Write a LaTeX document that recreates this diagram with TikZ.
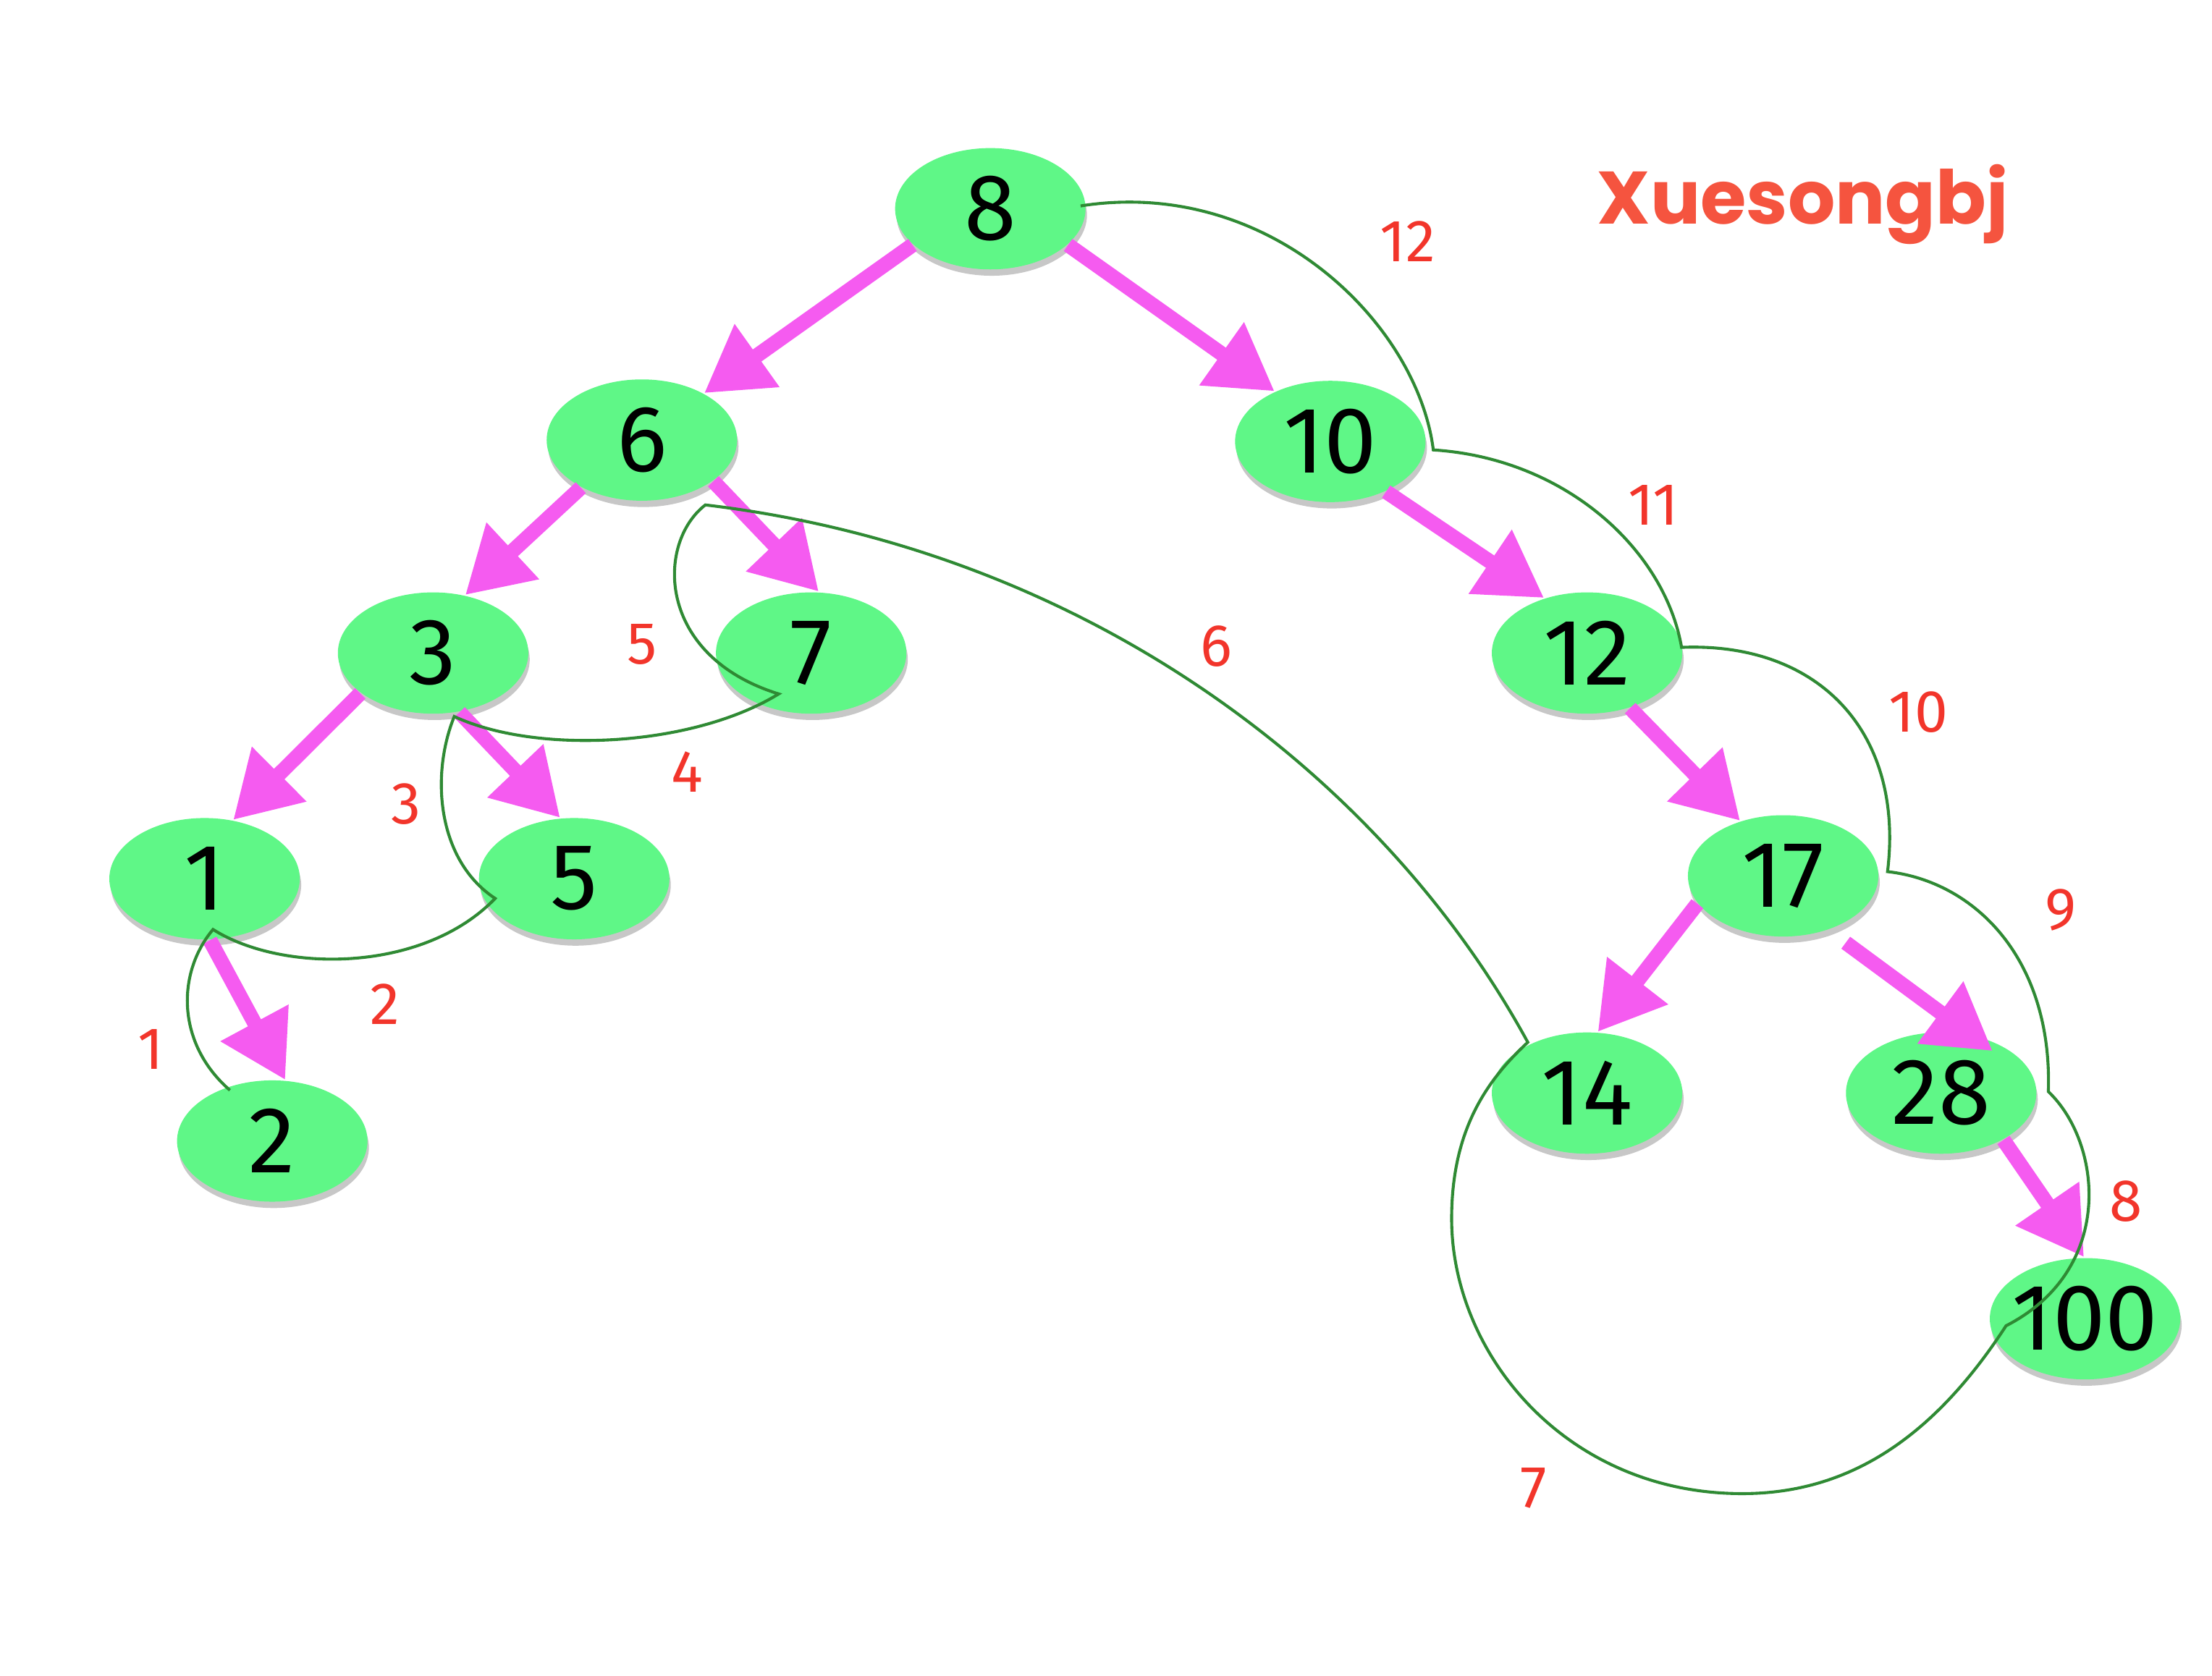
\documentclass[tikz,border=0pt]{standalone}
\usepackage{fontspec}
\setmainfont{Fira Sans}
\newfontfamily\titlefont{Poppins}
\usetikzlibrary{shadows,arrows.meta,shapes.geometric}
\definecolor{nodegreen}{HTML}{5FF787}
\definecolor{arrowpink}{HTML}{F55BF0}
\definecolor{threadgreen}{HTML}{2F8A34}
\definecolor{labelred}{HTML}{F2352B}
\definecolor{titlered}{HTML}{F5543F}
\newcommand{\nodetxt}[1]{\makebox[0pt]{#1}}
\begin{document}
\begin{tikzpicture}[x=0.1mm,y=-0.1mm,
  tnode/.style={ellipse, fill=nodegreen, minimum width=13.5mm, minimum height=8.6mm,
    inner sep=0pt, font=\fontsize{19}{19}\selectfont,
    drop shadow={shadow xshift=0.1mm, shadow yshift=-0.45mm, opacity=0.22, fill=black}},
  child/.style={draw=arrowpink, line width=1.05mm, -{Triangle[length=4.6mm,width=5.2mm]}},
  thread/.style={draw=threadgreen, line width=0.6pt},
  lab/.style={text=labelred, font=\fontsize{12}{12}\selectfont}
]
\useasboundingbox (0,0) rectangle (1568,1188);

% nodes
\node[tnode] (n8)   at (702,148)  {\nodetxt{8}};
\node[tnode] (n6)   at (455,312)  {\nodetxt{6}};
\node[tnode] (n10)  at (943,313)  {\nodetxt{10}};
\node[tnode] (n3)   at (307,463)  {\nodetxt{3}};
\node[tnode] (n7)   at (575,463)  {\nodetxt{7}};
\node[tnode] (n12)  at (1125,463) {\nodetxt{12}};
\node[tnode] (n1)   at (145,623)  {\nodetxt{1}};
\node[tnode] (n5)   at (407,623)  {\nodetxt{5}};
\node[tnode] (n17)  at (1264,621) {\nodetxt{17}};
\node[tnode] (n2)   at (193,809)  {\nodetxt{2}};
\node[tnode] (n14)  at (1125,775) {\nodetxt{14}};
\node[tnode] (n28)  at (1376,775) {\nodetxt{28}};
\node[tnode] (n100) at (1478,935) {\nodetxt{100}};

% child arrows
\draw[child] (n8.205) -- (n6.37);
\draw[child] (n8.335) -- (n10.138);
\draw[child] (n6.218) -- (n3.61);
\draw[child] (n6.330) -- (n7.83);
\draw[child] (n3.209) -- (n1.64);
\draw[child] (n3.294) -- (n5.103);
\draw[child] (n1.275) -- (n2.78);
\draw[child] (n10.318) -- (n12.128);
\draw[child] (n12.308) -- (n17.128);
\draw[child] (n17.198) -- (n14.80);
\draw[child, shorten <=1.5mm, shorten >=-2mm] (n17.310) -- (n28.64);
\draw[child] (n28.323) -- (n100.91);

% thread junctions
\coordinate (j0)  at (766,146);
\coordinate (j1)  at (1016,319);
\coordinate (j2)  at (1192,459);
\coordinate (j3)  at (1338,618);
\coordinate (j4)  at (1452,774);
\coordinate (j5)  at (1422,940);
\coordinate (j6)  at (1083,739);
\coordinate (j7)  at (500,358);
\coordinate (j8)  at (552,492);
\coordinate (j9)  at (322,508);
\coordinate (j10) at (351,637);
\coordinate (j11) at (151,659);
\coordinate (j12) at (163,773);

\draw[thread] (j0) .. controls (900,125) and (1005,230) .. (j1)
  .. controls (1110,325) and (1180,390) .. (j2)
  .. controls (1290,455) and (1350,520) .. (j3)
  .. controls (1400,625) and (1455,680) .. (j4)
  .. controls (1490,810) and (1500,900) .. (j5)
  .. controls (1370,1020) and (1310,1059) .. (1235,1059)
  .. controls (1110,1059) and (1029,960) .. (1029,864)
  .. controls (1029,800) and (1055,765) .. (j6)
  .. controls (980,550) and (770,390) .. (j7)
  .. controls (465,385) and (465,465) .. (j8)
  .. controls (490,530) and (380,535) .. (j9)
  .. controls (305,550) and (310,610) .. (j10)
  .. controls (300,690) and (200,690) .. (j11)
  .. controls (125,690) and (125,740) .. (j12);

% step labels
\node[lab] (l12) at (998,171)  {12};
\node[lab] (l11) at (1172,358) {11};
\node[lab] (l10) at (1360,505) {10};
\node[lab] (l9)  at (1461,645) {9};
\node[lab] (l8)  at (1507,852) {8};
\node[lab] (l7)  at (1087,1055) {7};
\node[lab] (l6)  at (862,458)  {6};
\node[lab] (l5)  at (455,457)  {5};
\node[lab] (l4)  at (487,547)  {4};
\node[lab] (l3)  at (288,570)  {3};
\node[lab] (l2)  at (273,712)  {2};
\node[lab] (l1)  at (107,744)  {1};

% title
\node[text=titlered, font=\titlefont\bfseries\fontsize{15}{15}\selectfont] (title) at (1278,145) {Xuesongbj};
\end{tikzpicture}
\end{document}
